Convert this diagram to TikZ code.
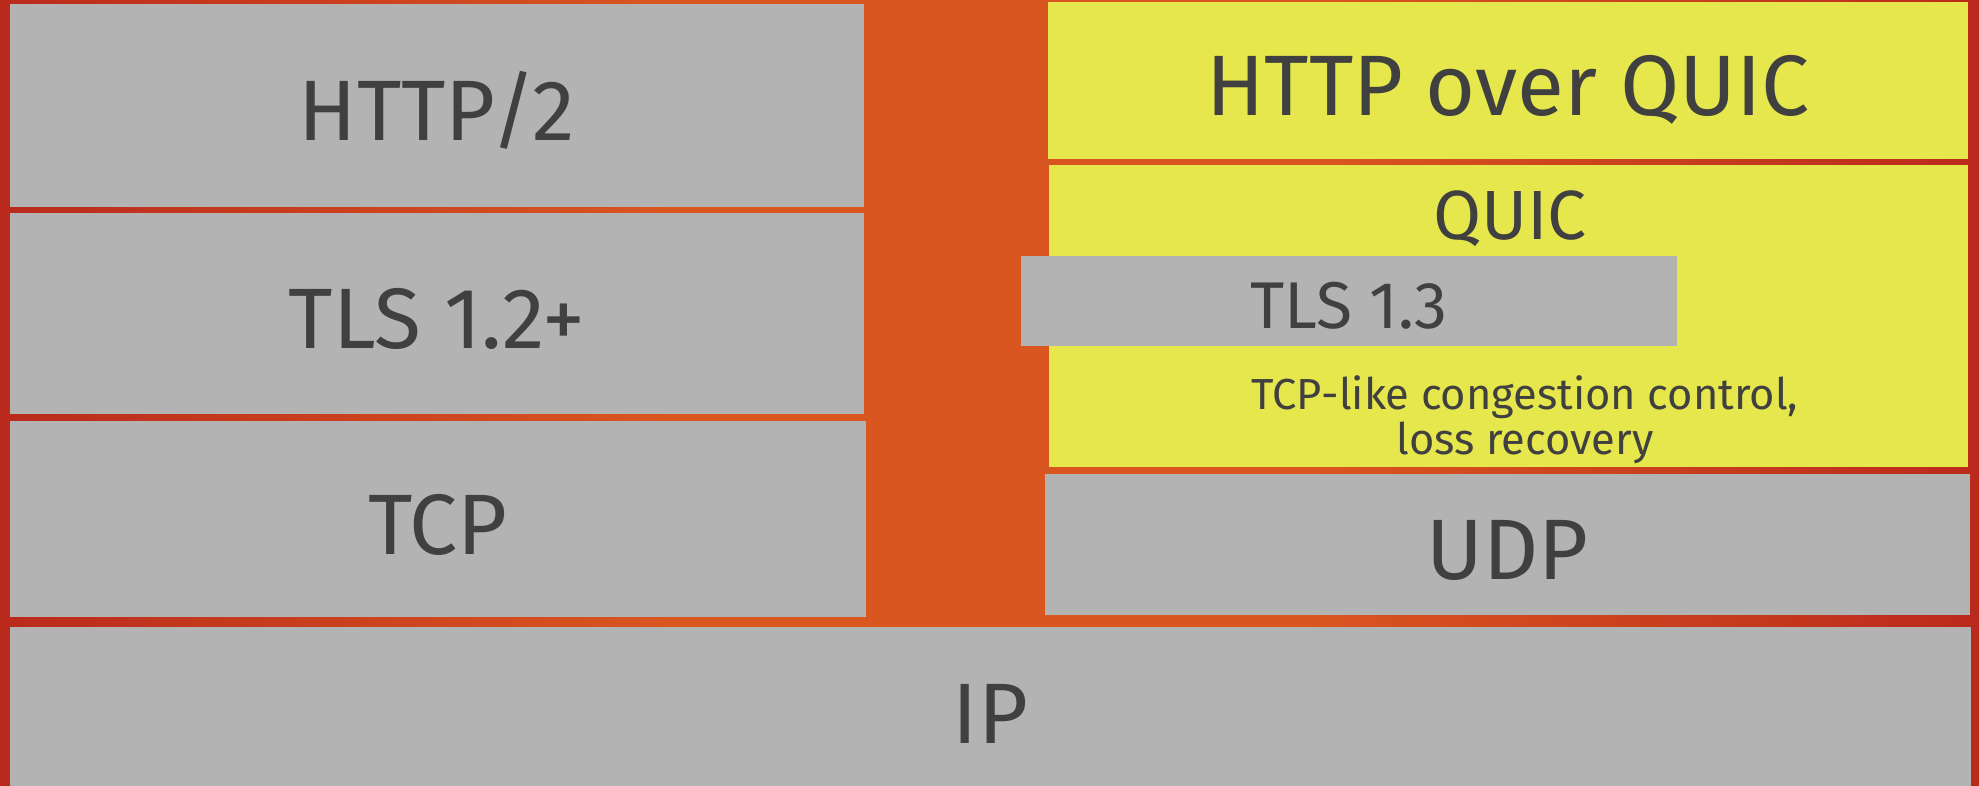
\documentclass[tikz,border=0pt]{standalone}
\usepackage{fontspec}
\setmainfont{Fira Sans}
\usetikzlibrary{fit}

\definecolor{bgorange}{RGB}{218,86,32}
\definecolor{bgred}{RGB}{186,42,28}
\definecolor{layergray}{RGB}{179,179,179}
\definecolor{quicyellow}{RGB}{230,230,77}
\definecolor{inkgray}{RGB}{64,64,64}

\pgfdeclarehorizontalshading{slideglow}{100bp}{color(0bp)=(bgred); color(25bp)=(bgred);
  color(42bp)=(bgorange); color(58bp)=(bgorange); color(75bp)=(bgred); color(100bp)=(bgred)}

\tikzset{
  layer/.style={rectangle, fill=layergray, inner sep=0pt},
  quiclayer/.style={layer, fill=quicyellow},
  layertext/.style={text=inkgray, inner sep=0pt, text height=0.70cm, text depth=0pt,
    font=\fontsize{24.4pt}{29pt}\selectfont},
  subtext/.style={text=inkgray, inner sep=0pt, anchor=base,
    font=\fontsize{19.8pt}{24pt}\selectfont},
  note/.style={text=inkgray, inner sep=0pt, align=center,
    font=\fontsize{12.35pt}{12.8pt}\selectfont}
}

\begin{document}
\begin{tikzpicture}[x=0.01cm, y=-0.01cm]

  % background
  \useasboundingbox (0,0) rectangle (1979,786);
  \shade[shading=slideglow] (0,0) rectangle (1979,786);

  % TCP stack (left)
  \node[layer, fit={(10,4) (864,207)}] (http2) {};
  \node[layer, fit={(10,213) (864,414)}] (tls12) {};
  \node[layer, fit={(10,421) (866,617)}] (tcp) {};
  \node[layertext] (http2text) at (http2.center) {HTTP/2};
  \node[layertext] (tls12text) at (tls12.center) {TLS 1.2+};
  \node[layertext] (tcptext) at (tcp.center) {TCP};

  % QUIC stack (right)
  \node[quiclayer, fit={(1048,2) (1968,159)}] (httpquic) {};
  \node[layertext] (httpquictext) at (httpquic.center) {HTTP over QUIC};
  \node[quiclayer, fit={(1049,165) (1968,467)}] (quic) {};
  \node[subtext] (quictext) at (1510,240) {QUIC};
  \node[layer, fit={(1021,256) (1677,346)}] (tls13) {};
  \node[subtext, font=\fontsize{18.8pt}{23pt}\selectfont] (tls13text) at (1349,329) {TLS 1.3};
  \node[note] (congestion) at (1525,420) {TCP-like congestion control,\\loss recovery};
  \node[layer, fit={(1045,474) (1970,615)}] (udp) {};
  \node[layertext] (udptext) at (udp.center) {UDP};

  % shared bottom
  \node[layer, fit={(10,627) (1971,790)}] (ip) {};
  \node[layertext] (iptext) at (ip.center) {IP};

\end{tikzpicture}
\end{document}
